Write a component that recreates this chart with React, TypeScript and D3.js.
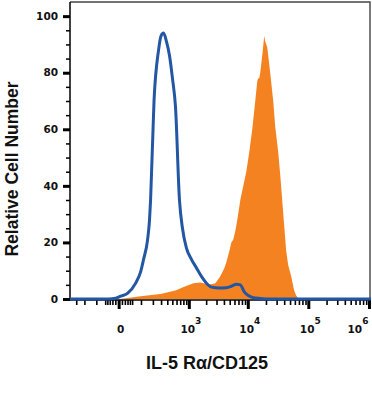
import React, { useEffect, useRef } from 'react';
import * as d3 from 'd3';

// isotype control (blue outline): [intensity, count]
const isoIntensity = [-400, -55, -9, 6, 30, 68, 97, 118, 150, 167, 177, 212, 266, 300, 337, 386, 442, 503, 573, 679, 770, 908, 1112, 1360, 1660, 2021, 2456, 3350, 4390, 5320, 6440, 7510, 8750, 10190, 12320, 16090, 23500, 1080000];
const isoCount = [0, 0, 0.3, 1, 2, 5.6, 9.5, 14, 21, 28, 35, 70, 88, 93, 94, 91, 86, 78, 68, 35, 25, 18, 14, 11, 8, 5.6, 4.2, 3.9, 4, 4.5, 5.2, 5, 2.5, 1.2, 0.5, 0.2, 0, 0];

// IL-5 Ra/CD125 stained (orange fill)
const stainIntensity = [0, 23, 97, 292, 573, 871, 1206, 1594, 2021, 2456, 2869, 3480, 4070, 4390, 4930, 5320, 5740, 6200, 6690, 7510, 8420, 9440, 10580, 11860, 13300, 14350, 14900, 15490, 16090, 17350, 18700, 19470, 21000, 23500, 26370, 28420, 31860, 34390, 37090, 40000, 43180, 46580, 52200, 58400, 63100, 68000, 73300];
const stainCount = [0, 0.3, 1, 1.8, 3, 4.5, 5.6, 5.8, 5.3, 5.2, 5.6, 8, 11, 13, 17, 20, 21, 24, 28, 35, 40, 45, 52, 60, 70, 77, 78, 78, 80, 86, 93, 91, 89, 80, 70, 61, 52, 44, 35, 26, 17, 12, 8, 3, 1.2, 0.3, 0];

const xMajorTicks = [0, 1e3, 1e4, 1e5, 1e6];
const xMajorLabels = ['0', '3', '4', '5', '6'];
const xMinorTicks = [
  -300, -200, -100, -50, -40, -30, -20, -10, 10, 20, 30, 40, 50,
  100, 200, 300, 400, 500, 600, 700, 800, 900,
  2e3, 3e3, 4e3, 5e3, 6e3, 7e3, 8e3, 9e3,
  2e4, 3e4, 4e4, 5e4, 6e4, 7e4, 8e4, 9e4,
  2e5, 3e5, 4e5, 5e5, 6e5, 7e5, 8e5, 9e5,
];
const yMajorTicks = [0, 20, 40, 60, 80, 100];
const yMinorTicks = [5, 10, 15, 25, 30, 35, 45, 50, 55, 65, 70, 75, 85, 90, 95];

const W = 372;
const H = 395;

export default function App() {
  const svgRef = useRef<SVGSVGElement | null>(null);

  useEffect(() => {
    const svg = d3.select(svgRef.current);
    svg.selectAll('*').remove();

    const left = 70;
    const right = 370;
    const top = 2;
    const bottom = 299;

    const x = d3.scaleSymlog().constant(75).domain([-400, 1080000]).range([left, 371]);
    const y = d3.scaleLinear().domain([0, 105]).range([bottom, top]);

    // orange stained histogram
    const area = d3
      .area<number>()
      .x((d, i) => x(stainIntensity[i]))
      .y0(y(0))
      .y1((d) => y(d))
      .curve(d3.curveLinear);
    svg.append('path').attr('d', area(stainCount)).attr('fill', '#f58220');

    // frame
    svg
      .append('path')
      .attr('d', `M${left},${top}H${right}V${bottom + 1}`)
      .attr('fill', 'none')
      .attr('stroke', '#444')
      .attr('stroke-width', 1.4);

    // y axis
    svg
      .append('g')
      .attr('transform', `translate(${left},0)`)
      .call(d3.axisLeft(y).tickValues(yMinorTicks).tickSize(4).tickFormat(() => ''))
      .call((g) => g.select('.domain').remove())
      .selectAll('line')
      .attr('stroke-width', 1.5);
    const yAx = svg
      .append('g')
      .attr('transform', `translate(${left},0)`)
      .call(d3.axisLeft(y).tickValues(yMajorTicks).tickSize(7).tickPadding(5).tickSizeOuter(0));
    yAx.select('.domain').attr('d', `M0,${top}V${bottom + 1}`).attr('stroke-width', 1.5);
    yAx.selectAll('line').attr('stroke-width', 3);
    yAx
      .selectAll('text')
      .attr('font-family', 'DejaVu Sans')
      .attr('font-weight', 'bold')
      .attr('font-size', 10.5)
      .attr('fill', '#111')
      .attr('dy', '0.3em');

    // x axis
    svg
      .append('g')
      .attr('transform', `translate(0,${bottom + 1})`)
      .call(d3.axisBottom(x).tickValues(xMinorTicks).tickSize(5).tickFormat(() => ''))
      .call((g) => g.select('.domain').remove())
      .selectAll('line')
      .attr('stroke-width', 1.6);
    const xAx = svg
      .append('g')
      .attr('transform', `translate(0,${bottom + 1})`)
      .call(d3.axisBottom(x).tickValues(xMajorTicks).tickSize(9).tickFormat(() => '').tickSizeOuter(0));
    xAx.select('.domain').attr('d', `M${left},0H${right}`).attr('stroke-width', 1.5);
    xAx.selectAll('line').attr('stroke-width', 3);

    // x tick labels: 0 and powers of ten
    const lab = svg
      .append('g')
      .attr('font-family', 'DejaVu Sans')
      .attr('font-weight', 'bold')
      .attr('font-size', 10.5)
      .attr('fill', '#111');
    xMajorTicks.forEach((v, i) => {
      const px = Math.min(x(v) + 2, 358);
      const t = lab.append('text').attr('x', px).attr('y', 333).attr('text-anchor', 'middle');
      if (i === 0) {
        t.text(xMajorLabels[i]);
      } else {
        t.append('tspan').text('10');
        t.append('tspan').attr('font-size', 9).attr('dy', -9).text(xMajorLabels[i]);
      }
    });

    // isotype outline
    const line = d3
      .line<number>()
      .x((d, i) => x(isoIntensity[i]))
      .y((d) => y(d))
      .curve(d3.curveMonotoneX);
    svg
      .append('path')
      .attr('d', line(isoCount))
      .attr('fill', 'none')
      .attr('stroke', '#2356a3')
      .attr('stroke-width', 3)
      .attr('stroke-linejoin', 'round');

    // titles
    svg
      .append('text')
      .attr('x', 207)
      .attr('y', 369)
      .attr('text-anchor', 'middle')
      .attr('font-family', 'Liberation Sans')
      .attr('font-weight', 'bold')
      .attr('font-size', 18)
      .attr('fill', '#111')
      .text('IL-5 R\u03b1/CD125');
    svg
      .append('text')
      .attr('transform', 'translate(18,169) rotate(-90)')
      .attr('text-anchor', 'middle')
      .attr('font-family', 'Liberation Sans')
      .attr('font-weight', 'bold')
      .attr('font-size', 17.5)
      .attr('fill', '#111')
      .text('Relative Cell Number');
  }, []);

  return (
    <svg
      ref={svgRef}
      width={W}
      height={H}
      style={{ position: 'absolute', left: 0, top: 0, background: '#fff' }}
    ></svg>
  );
}
